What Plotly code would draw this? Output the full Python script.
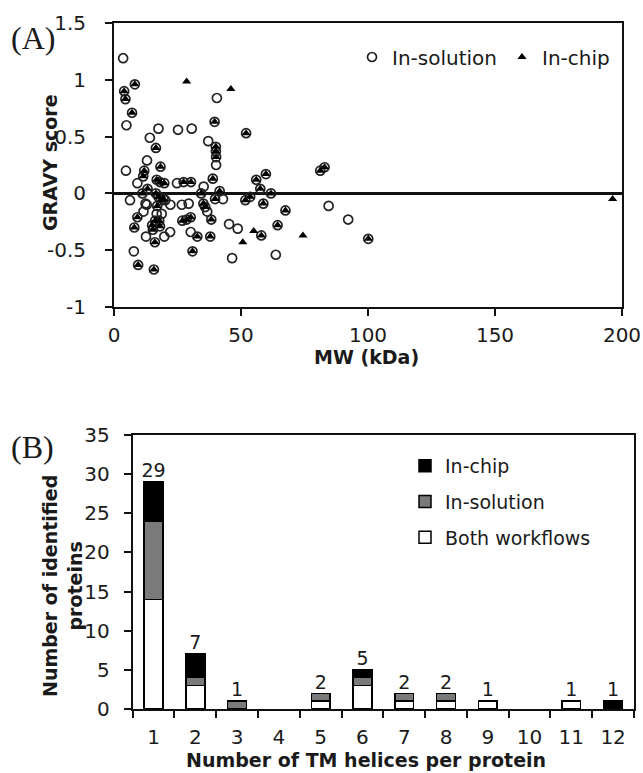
import plotly.graph_objects as go

# ---------------- Panel A data (MW in kDa, GRAVY score) ----------------
# proteins identified by both workflows (circle + triangle)
both_mw = [4.0, 4.5, 8.2, 7.1, 16.5, 18.3, 11.9, 11.5, 13.2, 11.2, 16.8, 18.1, 19.8,
           16.5, 17.5, 18.5, 19.5, 17.0, 16.2, 17.8, 15.0, 15.3, 18.1, 16.1, 9.2,
           8.0, 9.5, 15.7, 26.9, 28.6, 30.2, 30.9, 32.8, 27.4, 30.3, 34.3, 35.2,
           35.9, 38.3, 37.9, 38.9, 39.8, 41.6, 39.6, 40.1, 40.1, 40.2, 51.7, 52.0,
           53.6, 56.0, 57.6, 59.8, 58.8, 58.0, 61.8, 64.4, 67.5, 81.2, 82.9, 100.1]
both_gravy = [0.90, 0.83, 0.96, 0.71, 0.40, 0.235, 0.20, 0.15, 0.04, 0.0, 0.12, 0.10, 0.09,
              0.0, -0.03, -0.06, -0.05, -0.11, -0.24, -0.24, -0.28, -0.32, -0.29, -0.43, -0.21,
              -0.30, -0.63, -0.67, -0.24, -0.23, -0.21, -0.51, -0.38, 0.10, 0.10, 0.0, -0.09,
              -0.12, -0.23, -0.38, 0.13, -0.05, 0.02, 0.63, 0.41, 0.37, 0.32, -0.06, 0.53,
              -0.03, 0.12, 0.04, 0.17, -0.09, -0.37, 0.0, -0.28, -0.15, 0.20, 0.23, -0.40]
# proteins identified only in-solution (open circle)
sol_only_mw = [3.6, 4.7, 4.9, 6.3, 9.2, 13.0, 14.1, 17.5, 25.2, 30.6, 37.1, 40.5, 40.2,
               12.4, 11.6, 12.6, 7.8, 16.8, 18.8, 20.2, 22.2, 19.8, 22.1, 24.8, 26.7,
               29.4, 30.2, 35.3, 36.7, 42.9, 45.3, 48.7, 46.5, 63.7, 84.5, 92.2, 12.9]
sol_only_gravy = [1.19, 0.20, 0.60, -0.06, 0.09, 0.29, 0.49, 0.57, 0.56, 0.57, 0.46, 0.84, 0.25,
                  -0.09, -0.16, -0.38, -0.51, -0.18, -0.18, -0.06, -0.10, -0.38, -0.34, 0.09, -0.10,
                  -0.09, -0.34, 0.06, -0.16, -0.05, -0.27, -0.31, -0.57, -0.54, -0.11, -0.23, -0.10]
# proteins identified only in-chip (triangle)
chip_only_mw = [28.6, 46.0, 50.7, 55.0, 74.4, 196.3]
chip_only_gravy = [0.985, 0.92, -0.43, -0.33, -0.37, -0.05]

mw_ticks = [0, 50, 100, 150, 200]
gravy_ticks = [-1, -0.5, 0, 0.5, 1, 1.5]
gravy_tick_labels = ["-1", "-0.5", "0", "0.5", "1", "1.5"]

# ---------------- Panel B data ----------------
tm_helices = ["1", "2", "3", "4", "5", "6", "7", "8", "9", "10", "11", "12"]
both_workflows = [14, 3, 0, 0, 1, 3, 1, 1, 1, 0, 1, 0]
in_solution = [10, 1, 1, 0, 1, 1, 1, 1, 0, 0, 0, 0]
in_chip = [5, 3, 0, 0, 0, 1, 0, 0, 0, 0, 0, 1]
count_ticks = [0, 5, 10, 15, 20, 25, 30, 35]

W, H = 643, 773
FONT = "DejaVu Sans"
INK = "#1a1a1a"

def px_x(p):
    return p / W

def px_y(p):
    return 1 - p / H

def nz(values):
    # empty segments are not drawn (avoid a flat outline for zero-height bars)
    return [v if v else None for v in values]

fig = go.Figure()

# Panel A traces
fig.add_trace(go.Scatter(
    x=sol_only_mw + both_mw, y=sol_only_gravy + both_gravy,
    mode="markers", name="In-solution",
    marker=dict(symbol="circle-open", size=9, color="#222222", line=dict(width=1.7)),
    xaxis="x", yaxis="y", legend="legend"))
fig.add_trace(go.Scatter(
    x=chip_only_mw + both_mw, y=chip_only_gravy + both_gravy,
    mode="markers", name="In-chip",
    marker=dict(symbol="triangle-up", size=8, color="#000000"),
    xaxis="x", yaxis="y", legend="legend"))

# Panel B traces
bar_line = dict(color="#000000", width=1.5)
fig.add_trace(go.Bar(x=tm_helices, y=nz(both_workflows), name="Both workflows", width=0.45,
                     marker=dict(color="#ffffff", line=bar_line), xaxis="x2", yaxis="y2",
                     legend="legend2", legendgroup="g1", legendrank=3))
fig.add_trace(go.Bar(x=tm_helices, y=nz(in_solution), name="In-solution", width=0.45,
                     marker=dict(color="#7a7a7a", line=bar_line), xaxis="x2", yaxis="y2",
                     legend="legend2", legendgroup="g2", legendrank=2))
fig.add_trace(go.Bar(x=tm_helices, y=nz(in_chip), name="In-chip", width=0.45,
                     marker=dict(color="#000000", line=bar_line), xaxis="x2", yaxis="y2",
                     legend="legend2", legendgroup="g3", legendrank=1))

# total labels above the stacked bars
totals = [a + b + c for a, b, c in zip(both_workflows, in_solution, in_chip)]
label_x = [c for c, t in zip(tm_helices, totals) if t > 0]
label_y = [t for t in totals if t > 0]
fig.add_trace(go.Scatter(x=label_x, y=label_y, mode="text", text=[str(t) for t in label_y],
                         textposition="top center", showlegend=False, hoverinfo="skip",
                         textfont=dict(size=19, color=INK, family=FONT),
                         xaxis="x2", yaxis="y2", cliponaxis=False))

bold = dict(size=19, color=INK, family=FONT, weight="bold")
serif = dict(size=32, color=INK, family="Liberation Serif")
ann_base = dict(xref="paper", yref="paper", showarrow=False, xanchor="center", yanchor="middle")
annotations = [
    dict(x=px_x(50), y=px_y(163), text="GRAVY score", textangle=-90, font=bold, **ann_base),
    dict(x=px_x(366), y=px_y(357), text="MW (kDa)", font=bold, **ann_base),
    dict(x=px_x(62), y=px_y(586), text="Number of identified<br>proteins", textangle=-90,
         font=bold, **ann_base),
    dict(x=px_x(366), y=px_y(760), text="Number of TM helices per protein", font=bold,
         **ann_base),
    dict(x=px_x(33), y=px_y(38), text="(A)", font=serif, **ann_base),
    dict(x=px_x(32), y=px_y(447), text="(B)", font=serif, **ann_base),
]

axis_common = dict(showgrid=False, showline=True, linecolor="#111111", linewidth=2,
                   mirror=True, ticks="outside", ticklen=7, tickwidth=2, tickcolor="#111111",
                   automargin=False,
                   tickfont=dict(size=20, color=INK, family=FONT))

fig.update_layout(
    width=W, height=H, margin=dict(l=0, r=0, t=0, b=0, autoexpand=False),
    paper_bgcolor="white", plot_bgcolor="white",
    font=dict(family=FONT, size=19, color=INK),
    barmode="stack",
    xaxis=dict(domain=[px_x(114), px_x(622)], range=[0, 200], tickvals=mw_ticks,
               zeroline=False, anchor="y", ticklabelstandoff=2, **axis_common),
    yaxis=dict(domain=[px_y(307), px_y(23)], range=[-1, 1.5], tickvals=gravy_ticks,
               ticktext=gravy_tick_labels, zeroline=True, zerolinecolor="#111111",
               zerolinewidth=2.5, anchor="x", ticklabelstandoff=15, **axis_common),
    xaxis2=dict(domain=[px_x(132.7), px_x(634)], type="category", range=[-0.5, 11.5],
                tickson="boundaries", zeroline=False, anchor="y2", ticklabelstandoff=9,
                **axis_common),
    yaxis2=dict(domain=[px_y(709), px_y(435)], range=[0, 35], tickvals=count_ticks,
                zeroline=False, anchor="x2", ticklabelstandoff=10, **axis_common),
    legend=dict(orientation="h", x=px_x(352), y=px_y(57), xanchor="left", yanchor="middle",
                font=dict(size=20, color=INK, family=FONT), bgcolor="rgba(0,0,0,0)",
                itemwidth=30),
    legend2=dict(x=px_x(405), y=px_y(447), xanchor="left", yanchor="top",
                 traceorder="grouped", tracegroupgap=8,
                 font=dict(size=19, color=INK, family=FONT), bgcolor="rgba(0,0,0,0)",
                 itemwidth=30),
    annotations=annotations,
    showlegend=True,
)

fig.write_html("out.html")
